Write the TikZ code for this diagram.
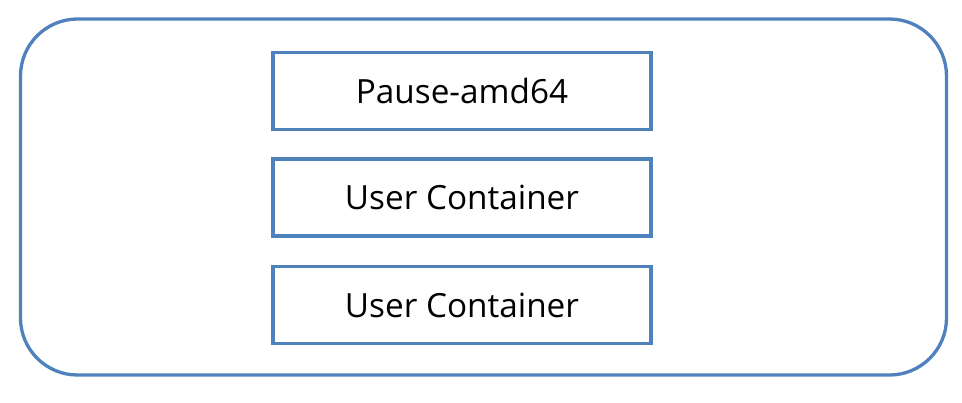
\documentclass[tikz,border=0pt]{standalone}
\usepackage{fontspec}
\setmainfont{Open Sans}
\definecolor{boxblue}{HTML}{4F81BD}
\begin{document}
\begin{tikzpicture}[x=1pt,y=-1pt,
  outer/.style={draw=boxblue,line width=3.3pt,rounded corners=57pt},
  inner/.style={draw=boxblue,line width=3.3pt,minimum width=378pt,minimum height=77pt,inner sep=0pt,font=\fontsize{33.3}{40}\selectfont}]
\useasboundingbox (0,0) rectangle (962,402);
\draw[outer] (20.5,19) rectangle (946.5,375);
\node[inner] (pause) at (462,91) {Pause-amd64};
\node[inner] (uc1) at (462,197.5) {User Container};
\node[inner] (uc2) at (462,305) {User Container};
\end{tikzpicture}
\end{document}
